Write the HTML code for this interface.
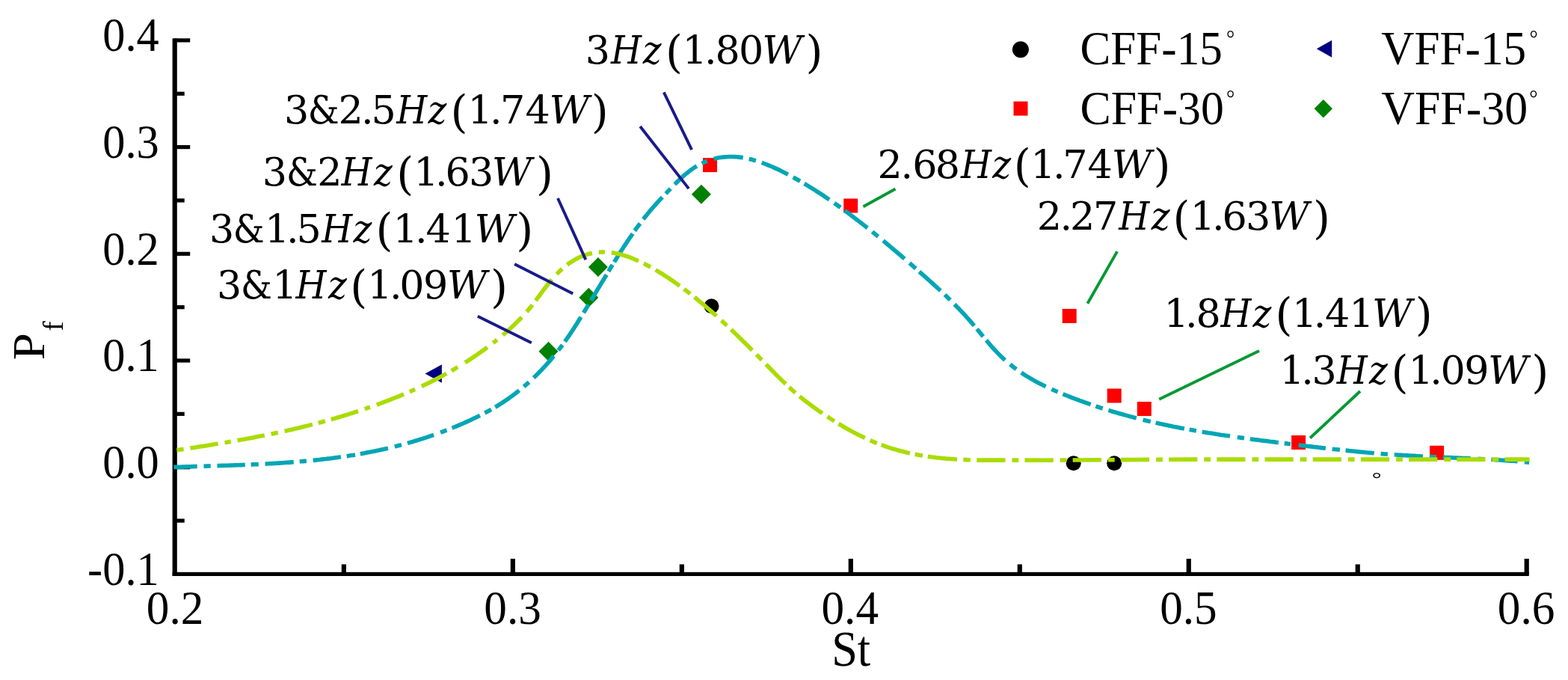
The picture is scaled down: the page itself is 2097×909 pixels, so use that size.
<!DOCTYPE html>
<html lang="en"><head><meta charset="utf-8"><title>Pf versus St</title>
<style>html,body{margin:0;padding:0;background:#fff;}body{width:2097px;height:909px;overflow:hidden;}svg{display:block;filter:blur(0.6px);}text{font-family:"Liberation Serif", "DejaVu Serif", serif;fill:#000;}.m{font-family:"DejaVu Serif", "Liberation Serif", serif;}</style></head><body>
<svg width="2097" height="909" viewBox="0 0 2097 909" role="img" aria-label="Pf versus St chart">
<rect width="2097" height="909" fill="#fff"/>
<g fill="#000">
<rect x="230.60" y="51.30" width="6.20" height="718.70"/>
<rect x="230.60" y="764.80" width="1814.20" height="5.20"/>
<rect x="233.70" y="693.45" width="13.00" height="5.20"/>
<rect x="233.70" y="622.10" width="20.50" height="5.20"/>
<rect x="233.70" y="550.75" width="13.00" height="5.20"/>
<rect x="233.70" y="479.40" width="20.50" height="5.20"/>
<rect x="233.70" y="408.05" width="13.00" height="5.20"/>
<rect x="233.70" y="336.70" width="20.50" height="5.20"/>
<rect x="233.70" y="265.35" width="13.00" height="5.20"/>
<rect x="233.70" y="194.00" width="20.50" height="5.20"/>
<rect x="233.70" y="122.65" width="13.00" height="5.20"/>
<rect x="233.70" y="51.30" width="20.50" height="5.20"/>
<rect x="456.77" y="754.40" width="6.20" height="13.00"/>
<rect x="682.75" y="746.90" width="6.20" height="20.50"/>
<rect x="908.73" y="754.40" width="6.20" height="13.00"/>
<rect x="1134.70" y="746.90" width="6.20" height="20.50"/>
<rect x="1360.68" y="754.40" width="6.20" height="13.00"/>
<rect x="1586.65" y="746.90" width="6.20" height="20.50"/>
<rect x="1812.63" y="754.40" width="6.20" height="13.00"/>
<rect x="2038.60" y="746.90" width="6.20" height="20.50"/>
</g>
<text transform="translate(212.7 68.10) scale(0.9530 1)" font-size="63.40" text-anchor="end">0.4</text>
<text transform="translate(212.7 210.80) scale(0.9530 1)" font-size="63.40" text-anchor="end">0.3</text>
<text transform="translate(212.7 353.50) scale(0.9530 1)" font-size="63.40" text-anchor="end">0.2</text>
<text transform="translate(212.7 496.20) scale(0.9530 1)" font-size="63.40" text-anchor="end">0.1</text>
<text transform="translate(212.7 638.90) scale(0.9530 1)" font-size="63.40" text-anchor="end">0.0</text>
<text transform="translate(212.7 781.60) scale(0.9530 1)" font-size="63.40" text-anchor="end">-0.1</text>
<path d="M568.5 499.5 L590.9 487.3 L590.9 511.7Z" fill="#000080"/>
<rect x="940.0" y="211.1" width="19.0" height="19.0" fill="#ff0000"/>
<rect x="1128.2" y="265.5" width="19.0" height="19.0" fill="#ff0000"/>
<rect x="1420.7" y="412.9" width="19.0" height="19.0" fill="#ff0000"/>
<rect x="1480.7" y="519.5" width="19.0" height="19.0" fill="#ff0000"/>
<rect x="1520.8" y="537.1" width="19.0" height="19.0" fill="#ff0000"/>
<rect x="1727.1" y="582.0" width="19.0" height="19.0" fill="#ff0000"/>
<rect x="1912.1" y="595.8" width="19.0" height="19.0" fill="#ff0000"/>
<circle cx="951.5" cy="409.2" r="10.0" fill="#000"/>
<circle cx="1435.7" cy="619.2" r="10.0" fill="#000"/>
<circle cx="1490.2" cy="619.2" r="10.0" fill="#000"/>
<path d="M924.9 259.7 L937.9 246.7 L950.9 259.7 L937.9 272.7Z" fill="#008000"/>
<path d="M786.9 357.1 L799.9 344.1 L812.9 357.1 L799.9 370.1Z" fill="#008000"/>
<path d="M774.3 397.7 L787.3 384.7 L800.3 397.7 L787.3 410.7Z" fill="#008000"/>
<path d="M720.5 469.8 L733.5 456.8 L746.5 469.8 L733.5 482.8Z" fill="#008000"/>
<path d="M232.4 624.5 L235.2 624.4 L238.1 624.3 L240.9 624.2 L243.8 624.1 L246.6 624.0 L249.5 623.9 L252.3 623.8 L255.2 623.7 L258.0 623.6 L260.9 623.5 L263.7 623.4M272.5 623.2 L274.8 623.1 L277.1 623.0 L279.4 623.0 L281.7 622.9M290.5 622.6 L293.4 622.5 L296.2 622.4 L299.1 622.4 L302.0 622.3 L304.8 622.2 L307.7 622.1 L310.6 622.0 L313.5 621.9 L316.3 621.8 L319.2 621.7 L322.1 621.6 L324.9 621.5 L327.8 621.3M335.6 621.0 L338.1 620.9 L340.7 620.8 L343.3 620.7 L345.8 620.6M354.6 620.1 L357.5 620.0 L360.5 619.8 L363.4 619.6 L366.4 619.5 L369.3 619.3 L372.2 619.1 L375.2 618.9 L378.1 618.7 L381.0 618.5 L384.0 618.3 L386.9 618.1 L389.9 617.9 L392.8 617.7M400.7 617.0 L403.0 616.8 L405.3 616.6 L407.6 616.4 L409.9 616.2M418.7 615.4 L421.6 615.1 L424.4 614.8 L427.3 614.5 L430.1 614.1 L433.0 613.8 L435.9 613.5 L438.7 613.1 L441.6 612.8 L444.5 612.4 L447.3 612.0 L450.2 611.6 L453.0 611.3 L455.9 610.8M463.7 609.7 L466.5 609.3 L469.4 608.8 L472.2 608.4 L475.0 607.9M481.8 606.7 L484.7 606.2 L487.5 605.7 L490.4 605.1 L493.2 604.6 L496.1 604.0 L499.0 603.5 L501.8 602.9 L504.7 602.3 L507.6 601.7 L510.4 601.0 L513.3 600.4 L516.1 599.8 L519.0 599.1M527.8 597.0 L530.1 596.4 L532.4 595.8 L534.7 595.2 L537.0 594.6M544.9 592.4 L547.8 591.6 L550.8 590.8 L553.7 589.9 L556.6 589.0 L559.6 588.1 L562.5 587.2 L565.4 586.3 L568.4 585.3 L571.3 584.4 L574.2 583.4 L577.2 582.4 L580.1 581.4M589.1 578.2 L591.9 577.1 L594.7 576.0 L597.5 575.0M604.6 572.2 L607.4 571.0 L610.3 569.8 L613.2 568.6 L616.1 567.4 L618.9 566.2 L621.8 564.9 L624.7 563.6 L627.6 562.3 L630.4 561.0 L633.3 559.6 L636.2 558.2 L639.1 556.8 L641.9 555.4M648.3 552.1 L651.2 550.6 L654.1 549.0 L657.0 547.3M662.2 544.2 L665.2 542.5 L668.1 540.6 L671.0 538.8 L673.9 536.9 L676.9 534.9 L679.8 532.9 L682.7 530.8 L685.6 528.7 L688.5 526.5 L691.5 524.2 L694.4 521.9M700.6 516.8 L702.9 514.8 L705.2 512.8 L707.5 510.8M713.7 505.0 L716.4 502.4 L719.1 499.7 L721.8 497.0 L724.5 494.2 L727.2 491.3 L729.9 488.4 L732.6 485.4 L735.3 482.3 L738.0 479.1 L740.7 475.9M746.7 468.4 L749.5 464.8 L752.3 461.1M755.5 456.6 L758.2 452.7 L760.9 448.8 L763.6 444.8 L766.3 440.7 L768.9 436.6 L771.6 432.4 L774.3 428.1 L777.0 423.8M780.5 418.1 L782.7 414.5 L784.9 410.8 L787.1 407.2M790.5 401.5 L793.4 396.6 L796.4 391.7 L799.3 386.8 L802.3 381.9 L805.2 377.0 L808.2 372.1 L811.1 367.2M813.8 362.7 L816.4 358.4 L819.1 354.1M821.5 350.2 L824.3 345.8 L827.0 341.4 L829.7 337.1 L832.5 332.8 L835.2 328.6 L838.0 324.4 L840.7 320.3 L843.4 316.3 L846.2 312.3M848.8 308.5 L851.2 305.2 L853.6 301.9 L856.0 298.7M860.3 293.0 L863.2 289.4 L866.0 285.9 L868.8 282.5 L871.7 279.2 L874.5 276.0 L877.3 272.8 L880.2 269.7 L883.0 266.7 L885.8 263.7M890.4 258.9 L892.5 256.6 L894.7 254.4 L896.8 252.2M902.4 246.5 L905.3 243.6 L908.3 240.7 L911.2 237.9 L914.2 235.2 L917.1 232.6 L920.1 230.2 L923.0 227.9 L926.0 225.8 L928.9 223.8 L931.9 222.0M938.6 218.4 L941.0 217.2 L943.4 216.2 L945.8 215.2M954.6 212.4 L957.4 211.7 L960.2 211.1 L963.0 210.6 L965.8 210.2 L968.6 209.9 L971.4 209.7 L974.2 209.5 L977.0 209.5 L979.8 209.5 L982.6 209.6 L985.4 209.8 L988.2 210.1 L991.0 210.4 L993.8 210.8M1001.7 212.4 L1004.0 212.9 L1006.3 213.5 L1008.6 214.2 L1010.9 214.8M1018.7 217.4 L1021.6 218.5 L1024.6 219.6 L1027.5 220.8 L1030.4 222.0 L1033.4 223.2 L1036.3 224.6 L1039.3 225.9 L1042.2 227.3 L1045.1 228.8 L1048.1 230.2 L1051.0 231.7 L1053.9 233.3M1060.7 236.9 L1063.0 238.2 L1065.4 239.5 L1067.7 240.8 L1070.1 242.1M1075.7 245.5 L1078.5 247.1 L1081.3 248.8 L1084.1 250.5 L1086.9 252.3 L1089.6 254.0 L1092.4 255.8 L1095.2 257.6 L1098.0 259.4 L1100.7 261.2 L1103.5 263.1 L1106.3 265.0 L1109.1 266.8M1115.7 271.5 L1118.5 273.4 L1121.3 275.4 L1124.1 277.4M1129.7 281.5 L1132.5 283.5 L1135.3 285.6 L1138.0 287.7 L1140.8 289.8 L1143.6 291.9 L1146.3 294.0 L1149.1 296.1 L1151.9 298.3 L1154.6 300.4 L1157.4 302.6 L1160.2 304.8M1166.5 309.9 L1169.2 312.0 L1171.8 314.2 L1174.5 316.3M1181.1 321.8 L1184.0 324.1 L1186.8 326.5 L1189.7 328.9 L1192.6 331.3 L1195.5 333.8 L1198.3 336.2 L1201.2 338.6 L1204.1 341.1 L1206.9 343.5 L1209.8 346.0M1216.4 351.7 L1219.2 354.2 L1222.0 356.6 L1224.8 359.0M1229.4 363.1 L1232.2 365.6 L1235.1 368.1 L1237.9 370.6 L1240.8 373.1 L1243.6 375.7 L1246.4 378.2 L1249.3 380.8 L1252.1 383.4 L1255.0 386.0 L1257.8 388.6M1263.5 394.0 L1266.0 396.3 L1268.4 398.7 L1270.9 401.1M1276.5 406.7 L1279.4 409.7 L1282.4 412.7 L1285.3 415.8 L1288.2 418.9 L1291.2 422.1 L1294.1 425.4 L1297.1 428.7 L1300.0 432.1 L1302.9 435.5M1306.5 439.7 L1309.3 443.1 L1312.1 446.5 L1314.9 449.9M1319.1 454.8 L1321.9 458.1 L1324.6 461.4 L1327.4 464.6 L1330.2 467.6 L1333.0 470.6 L1335.8 473.5 L1338.6 476.2 L1341.4 478.9 L1344.2 481.4M1350.8 487.1 L1353.6 489.3 L1356.4 491.5 L1359.2 493.6M1365.8 498.2 L1368.8 500.2 L1371.8 502.1 L1374.8 503.9 L1377.8 505.7 L1380.7 507.4 L1383.7 509.1 L1386.7 510.7 L1389.7 512.2 L1392.7 513.8 L1395.7 515.2 L1398.6 516.7M1406.4 520.2 L1409.1 521.5 L1411.9 522.7 L1414.6 523.8M1421.5 526.7 L1424.3 527.9 L1427.2 529.0 L1430.1 530.1 L1432.9 531.3 L1435.8 532.4 L1438.7 533.5 L1441.5 534.5 L1444.4 535.6 L1447.3 536.6 L1450.1 537.7 L1453.0 538.7 L1455.9 539.7 L1458.7 540.7M1465.5 543.0 L1467.8 543.8 L1470.1 544.5 L1472.4 545.3 L1474.7 546.0M1482.5 548.4 L1485.4 549.3 L1488.2 550.2 L1491.1 551.0 L1494.0 551.9 L1496.8 552.7 L1499.7 553.5 L1502.6 554.3 L1505.5 555.1 L1508.3 555.9 L1511.2 556.7 L1514.1 557.4 L1516.9 558.2 L1519.8 558.9M1528.6 561.1 L1531.1 561.8 L1533.7 562.4 L1536.3 563.0 L1538.8 563.6M1545.6 565.1 L1548.5 565.8 L1551.5 566.4 L1554.4 567.1 L1557.4 567.7 L1560.3 568.3 L1563.3 569.0 L1566.2 569.6 L1569.2 570.2 L1572.1 570.7 L1575.1 571.3 L1578.0 571.9 L1581.0 572.5 L1583.9 573.0M1590.7 574.3 L1593.0 574.7 L1595.3 575.1 L1597.6 575.5 L1599.9 575.9M1607.7 577.2 L1610.6 577.7 L1613.4 578.2 L1616.3 578.7 L1619.2 579.1 L1622.0 579.6 L1624.9 580.0 L1627.8 580.5 L1630.7 580.9 L1633.5 581.4 L1636.4 581.8 L1639.3 582.2 L1642.1 582.6 L1645.0 583.1M1654.8 584.5 L1657.1 584.8 L1659.4 585.1 L1661.7 585.4 L1664.0 585.7M1671.8 586.8 L1674.7 587.2 L1677.6 587.6 L1680.6 587.9 L1683.5 588.3 L1686.4 588.7 L1689.3 589.1 L1692.3 589.4 L1695.2 589.8 L1698.1 590.2 L1701.0 590.5 L1704.0 590.9 L1706.9 591.3 L1709.8 591.6M1717.7 592.6 L1720.4 592.9 L1723.2 593.3 L1725.9 593.6M1736.7 594.9 L1739.5 595.3 L1742.3 595.6 L1745.1 595.9 L1747.8 596.3 L1750.6 596.6 L1753.4 596.9 L1756.2 597.3 L1759.0 597.6 L1761.8 597.9 L1764.5 598.2 L1767.3 598.6 L1770.1 598.9 L1772.9 599.2M1781.7 600.2 L1784.3 600.5 L1786.8 600.7 L1789.4 601.0 L1792.0 601.3M1799.6 602.1 L1802.5 602.4 L1805.5 602.7 L1808.4 603.0 L1811.4 603.3 L1814.3 603.6 L1817.2 603.9 L1820.2 604.2 L1823.1 604.4 L1826.0 604.7 L1829.0 605.0 L1831.9 605.2 L1834.9 605.5 L1837.8 605.8M1846.6 606.5 L1848.9 606.7 L1851.2 606.9 L1853.6 607.0 L1855.9 607.2M1864.7 607.8 L1867.6 608.0 L1870.6 608.2 L1873.5 608.4 L1876.5 608.6 L1879.4 608.8 L1882.3 608.9 L1885.3 609.1 L1888.2 609.3 L1891.1 609.4 L1894.1 609.6 L1897.0 609.7 L1900.0 609.9 L1902.9 610.0M1911.7 610.4 L1914.0 610.6 L1916.3 610.7 L1918.6 610.8 L1920.9 610.9M1929.8 611.2 L1932.6 611.4 L1935.5 611.5 L1938.3 611.6 L1941.1 611.7 L1944.0 611.9 L1946.8 612.0 L1949.6 612.1 L1952.4 612.2 L1955.3 612.4 L1958.1 612.5 L1960.9 612.6 L1963.8 612.7 L1966.6 612.9M1976.4 613.3 L1978.7 613.5 L1981.0 613.6 L1983.3 613.7 L1985.6 613.8M1994.4 614.3 L1997.3 614.5 L2000.3 614.7 L2003.2 614.9 L2006.1 615.0 L2009.1 615.2 L2012.0 615.4 L2014.9 615.6 L2017.9 615.9 L2020.8 616.1 L2023.7 616.3 L2026.7 616.5 L2029.6 616.8M2038.9 617.6 L2041.0 617.8 L2043.0 618.0 L2045.1 618.2" fill="none" stroke="#00a6b5" stroke-width="5.6"/>
<path d="M236.4 601.7 L238.7 601.4 L241.0 601.0 L243.3 600.7 L245.6 600.4M254.4 599.0 L257.3 598.6 L260.1 598.2 L263.0 597.7 L265.9 597.3 L268.7 596.8 L271.6 596.4 L274.5 595.9 L277.4 595.5 L280.2 595.0 L283.1 594.6 L286.0 594.1 L288.8 593.6 L291.7 593.2M300.5 591.7 L303.2 591.3 L306.0 590.8 L308.7 590.3M317.5 588.8 L320.3 588.3 L323.1 587.8 L325.9 587.3 L328.7 586.8 L331.5 586.3 L334.3 585.7 L337.0 585.2 L339.8 584.7 L342.6 584.1 L345.4 583.6 L348.2 583.1 L351.0 582.5 L353.8 582.0M362.6 580.2 L364.9 579.7 L367.2 579.2 L369.5 578.7 L371.8 578.2M380.6 576.3 L383.5 575.7 L386.3 575.0 L389.2 574.4 L392.1 573.7 L394.9 573.0 L397.8 572.4 L400.7 571.7 L403.6 571.0 L406.4 570.3 L409.3 569.6 L412.2 568.9 L415.0 568.1 L417.9 567.4M425.7 565.4 L428.0 564.8 L430.3 564.2 L432.6 563.5 L434.9 562.9M442.7 560.7 L445.5 559.9 L448.3 559.1 L451.1 558.3 L453.9 557.5 L456.7 556.6 L459.5 555.8 L462.2 555.0 L465.0 554.1 L467.8 553.2 L470.6 552.3 L473.4 551.4 L476.2 550.5 L479.0 549.6M487.8 546.7 L490.2 545.9 L492.6 545.0 L495.0 544.2M503.8 541.1 L506.6 540.1 L509.4 539.0 L512.1 538.0 L514.9 537.0 L517.7 535.9 L520.5 534.8 L523.3 533.7 L526.1 532.6 L528.9 531.5 L531.7 530.4 L534.5 529.3 L537.2 528.1 L540.0 527.0M547.9 523.6 L550.3 522.6 L552.7 521.5 L555.1 520.4M563.9 516.4 L566.6 515.1 L569.4 513.7 L572.2 512.4 L575.0 511.0 L577.7 509.7 L580.5 508.2 L583.3 506.8 L586.1 505.4 L588.8 503.9 L591.6 502.4 L594.4 500.9 L597.2 499.4M603.8 495.6 L606.6 494.0 L609.4 492.4 L612.2 490.7M621.9 484.7 L624.9 482.8 L627.9 480.9 L630.9 478.9 L633.9 476.9 L636.9 474.9 L639.8 472.8 L642.8 470.7 L645.8 468.6 L648.8 466.4 L651.8 464.3M659.4 458.5 L662.1 456.4 L664.8 454.2M672.4 448.0 L675.2 445.5 L678.1 443.1 L680.9 440.5 L683.7 438.0 L686.5 435.3 L689.4 432.6 L692.2 429.8 L695.0 427.0 L697.8 424.1M704.4 416.9 L706.9 413.9 L709.4 410.9 L712.0 407.7M716.4 401.8 L719.1 398.1 L721.8 394.5 L724.5 390.9 L727.2 387.2 L729.9 383.7 L732.6 380.2 L735.3 376.8 L737.9 373.6M744.5 366.4 L747.0 364.0 L749.4 361.6 L751.9 359.4M758.5 353.9 L761.3 351.9 L764.1 350.0 L766.9 348.3 L769.6 346.7 L772.4 345.2 L775.2 343.8 L778.0 342.6 L780.8 341.5 L783.6 340.6 L786.3 339.7 L789.1 339.0 L791.9 338.4M800.7 337.2 L803.4 337.0 L806.2 336.9 L808.9 337.0M817.7 337.7 L820.5 338.1 L823.3 338.6 L826.1 339.2 L828.9 339.8 L831.7 340.6 L834.5 341.4 L837.3 342.3 L840.1 343.2 L842.9 344.2 L845.7 345.3 L848.4 346.5 L851.2 347.7 L854.0 348.9M860.8 352.2 L863.1 353.3 L865.4 354.6 L867.7 355.8 L870.0 357.1M876.7 360.9 L879.7 362.6 L882.6 364.4 L885.6 366.2 L888.5 368.1 L891.4 370.0 L894.4 371.9 L897.3 373.9 L900.3 375.9 L903.2 378.0 L906.1 380.1 L909.1 382.2M914.7 386.4 L917.5 388.5 L920.3 390.6 L923.1 392.8M928.8 397.3 L931.8 399.7 L934.7 402.1 L937.6 404.6 L940.6 407.0 L943.5 409.5 L946.4 412.1 L949.4 414.6 L952.3 417.2 L955.3 419.8 L958.2 422.5M964.8 428.4 L967.3 430.7 L969.7 433.0 L972.2 435.3M977.8 440.6 L980.6 443.3 L983.4 446.0 L986.3 448.7 L989.1 451.5 L991.9 454.2 L994.7 457.0 L997.5 459.8 L1000.4 462.6 L1003.2 465.4 L1006.0 468.3M1011.6 473.9 L1014.0 476.3 L1016.4 478.8 L1018.8 481.3M1024.4 487.0 L1027.3 490.0 L1030.3 493.0 L1033.2 496.0 L1036.1 498.9 L1039.1 501.9 L1042.0 504.8 L1044.9 507.7 L1047.9 510.5 L1050.8 513.3M1055.4 517.6 L1058.2 520.2 L1061.0 522.7 L1063.8 525.1M1069.4 529.8 L1072.2 532.1 L1074.9 534.3 L1077.7 536.5 L1080.5 538.6 L1083.3 540.7 L1086.0 542.7 L1088.8 544.7 L1091.6 546.7 L1094.3 548.7 L1097.1 550.6 L1099.9 552.5M1106.5 556.9 L1108.9 558.5 L1111.2 560.0 L1113.5 561.5 L1115.9 563.0M1121.5 566.5 L1124.5 568.2 L1127.4 570.0 L1130.4 571.7 L1133.3 573.4 L1136.2 575.0 L1139.2 576.6 L1142.1 578.2 L1145.1 579.7 L1148.0 581.2 L1151.0 582.7 L1153.9 584.1 L1156.8 585.5M1163.7 588.6 L1166.0 589.6 L1168.3 590.6 L1170.6 591.6 L1172.9 592.5M1178.7 594.7 L1181.6 595.7 L1184.6 596.8 L1187.5 597.8 L1190.4 598.7 L1193.4 599.7 L1196.3 600.5 L1199.3 601.4 L1202.2 602.2 L1205.1 603.0 L1208.1 603.8 L1211.0 604.5 L1214.0 605.2 L1216.9 605.8M1223.7 607.3 L1226.3 607.8 L1228.8 608.2 L1231.4 608.7 L1234.0 609.1M1240.8 610.2 L1243.6 610.6 L1246.4 611.0 L1249.2 611.3 L1252.0 611.7 L1254.8 612.0 L1257.6 612.3 L1260.4 612.6 L1263.2 612.8 L1266.0 613.1 L1268.8 613.3 L1271.6 613.5 L1274.4 613.7 L1277.2 613.9 L1280.0 614.0M1288.3 614.4 L1290.7 614.5 L1293.0 614.6 L1295.4 614.7 L1297.8 614.8" fill="none" stroke="#aadc00" stroke-width="5.6"/>
<path d="M1306.3 615.1 L1400 615.2 L1500 614.6 L1600 614.1 L2045.5 614.1" fill="none" stroke="#aadc00" stroke-width="5.6" stroke-dasharray="38.2 9 8.8 8.2"/>
<g stroke="#1a1a8c" stroke-width="3.9" fill="none">
<line x1="887.8" y1="123.3" x2="925.1" y2="200.1"/>
<line x1="856.1" y1="169.0" x2="921.1" y2="252.1"/>
<line x1="746.0" y1="265.0" x2="783.3" y2="347.1"/>
<line x1="688.1" y1="353.1" x2="766.2" y2="392.5"/>
<line x1="638.8" y1="422.7" x2="710.8" y2="458.3"/>
</g>
<g stroke="#009933" stroke-width="3.9" fill="none">
<line x1="1154.5" y1="276.2" x2="1197.5" y2="252.5"/>
<line x1="1454.4" y1="405.8" x2="1494.1" y2="336.1"/>
<line x1="1550.2" y1="533.7" x2="1684.0" y2="469.0"/>
<line x1="1752.1" y1="585.5" x2="1819.0" y2="523.0"/>
</g>
<circle cx="1364.9" cy="66.2" r="11.0" fill="#000"/>
<rect x="1355.5" y="135.6" width="19.0" height="19.0" fill="#ff0000"/>
<path d="M1760.8 65.2 L1781.2 53.7 L1781.2 76.7Z" fill="#000080"/>
<path d="M1757.6 145.2 L1769.8 133.0 L1782.0 145.2 L1769.8 157.4Z" fill="#008000"/>
<text transform="translate(195.78 834.20) scale(0.9660 1)" font-size="63.40">0.2</text>
<text transform="translate(647.27 834.20) scale(0.9660 1)" font-size="63.40">0.3</text>
<text transform="translate(1098.46 834.20) scale(0.9660 1)" font-size="63.40">0.4</text>
<text transform="translate(1551.17 834.20) scale(0.9660 1)" font-size="63.40">0.5</text>
<text transform="translate(2002.82 834.20) scale(0.9660 1)" font-size="63.40">0.6</text>
<text transform="translate(1112.15 890.00) scale(0.9306 1)" font-size="67.00">St</text>
<text transform="translate(1444.45 86.00) scale(0.9651 1)" font-size="63.40">CFF-15<tspan x="202.6" y="-24.6" font-size="29.0">°</tspan></text>
<text transform="translate(1444.43 165.70) scale(0.9750 1)" font-size="63.40">CFF-30<tspan x="200.6" y="-24.6" font-size="29.0">°</tspan></text>
<text transform="translate(1847.29 86.00) scale(0.9656 1)" font-size="63.40">VFF-15<tspan x="205.2" y="-24.6" font-size="29.0">°</tspan></text>
<text transform="translate(1847.28 165.70) scale(0.9752 1)" font-size="63.40">VFF-30<tspan x="203.1" y="-24.6" font-size="29.0">°</tspan></text>
<text transform="translate(1834.80 648.36) scale(1.2308 1)" font-size="26.00" fill="#333">°</text>
<text class="m" font-size="52.3" y="85.4" x="782.8 816.9 859.8 889.9 912.4 942.1 956.6 988.0 1019.2 1077.6">3<tspan font-style="italic" font-stretch="condensed">Hz</tspan><tspan font-size="59.0" dy="4.6">(</tspan><tspan dy="-4.6">1.80</tspan><tspan font-style="italic">W</tspan><tspan font-size="59.0" dy="4.6">)</tspan></text>
<text class="m" font-size="52.3" y="165.0" x="379.9 411.7 452.4 483.1 496.6 530.2 572.5 602.4 625.4 655.1 669.1 702.5 734.4 790.8">3<tspan font-stretch="condensed">&amp;</tspan>2.5<tspan font-style="italic" font-stretch="condensed">Hz</tspan><tspan font-size="59.0" dy="4.6">(</tspan><tspan dy="-4.6">1.74</tspan><tspan font-style="italic">W</tspan><tspan font-size="59.0" dy="4.6">)</tspan></text>
<text class="m" font-size="52.3" y="248.0" x="350.7 383.1 424.2 456.4 499.9 530.2 553.3 582.0 595.6 627.0 657.8 717.0">3<tspan font-stretch="condensed">&amp;</tspan>2<tspan font-style="italic" font-stretch="condensed">Hz</tspan><tspan font-size="59.0" dy="4.6">(</tspan><tspan dy="-4.6">1.63</tspan><tspan font-style="italic">W</tspan><tspan font-size="59.0" dy="4.6">)</tspan></text>
<text class="m" font-size="52.3" y="323.5" x="279.9 311.7 353.9 383.1 396.6 430.2 472.5 502.4 525.4 555.1 569.5 603.5 634.4 690.2">3<tspan font-stretch="condensed">&amp;</tspan>1.5<tspan font-style="italic" font-stretch="condensed">Hz</tspan><tspan font-size="59.0" dy="4.6">(</tspan><tspan dy="-4.6">1.41</tspan><tspan font-style="italic">W</tspan><tspan font-size="59.0" dy="4.6">)</tspan></text>
<text class="m" font-size="52.3" y="399.3" x="289.9 322.1 364.2 395.5 438.9 468.2 491.3 521.0 534.3 566.0 597.8 656.0">3<tspan font-stretch="condensed">&amp;</tspan>1<tspan font-style="italic" font-stretch="condensed">Hz</tspan><tspan font-size="59.0" dy="4.6">(</tspan><tspan dy="-4.6">1.09</tspan><tspan font-style="italic">W</tspan><tspan font-size="59.0" dy="4.6">)</tspan></text>
<text class="m" font-size="52.3" y="237.7" x="1173.4 1204.4 1220.2 1250.7 1284.9 1327.3 1355.7 1378.3 1408.0 1421.3 1454.5 1486.7 1542.5">2.68<tspan font-style="italic" font-stretch="condensed">Hz</tspan><tspan font-size="59.0" dy="4.6">(</tspan><tspan dy="-4.6">1.74</tspan><tspan font-style="italic">W</tspan><tspan font-size="59.0" dy="4.6">)</tspan></text>
<text class="m" font-size="52.3" y="307.0" x="1386.7 1417.6 1431.0 1462.0 1496.3 1539.8 1568.6 1591.7 1620.9 1634.5 1665.9 1697.2 1755.9">2.27<tspan font-style="italic" font-stretch="condensed">Hz</tspan><tspan font-size="59.0" dy="4.6">(</tspan><tspan dy="-4.6">1.63</tspan><tspan font-style="italic">W</tspan><tspan font-size="59.0" dy="4.6">)</tspan></text>
<text class="m" font-size="52.3" y="436.7" x="1556.4 1585.1 1599.4 1632.6 1675.5 1705.4 1728.0 1756.7 1771.9 1804.2 1834.9 1892.7">1.8<tspan font-style="italic" font-stretch="condensed">Hz</tspan><tspan font-size="59.0" dy="4.6">(</tspan><tspan dy="-4.6">1.41</tspan><tspan font-style="italic">W</tspan><tspan font-size="59.0" dy="4.6">)</tspan></text>
<text class="m" font-size="52.3" y="513.2" x="1711.3 1740.2 1754.5 1787.7 1831.1 1860.4 1883.5 1912.3 1926.5 1958.3 1990.0 2048.2">1.3<tspan font-style="italic" font-stretch="condensed">Hz</tspan><tspan font-size="59.0" dy="4.6">(</tspan><tspan dy="-4.6">1.09</tspan><tspan font-style="italic">W</tspan><tspan font-size="59.0" dy="4.6">)</tspan></text>
<text transform="translate(59.4 481.2) rotate(-90) scale(1.06 1)" font-size="61.5">P<tspan x="36.2" y="24.9" font-size="38.0">f</tspan></text>
</svg></body></html>
